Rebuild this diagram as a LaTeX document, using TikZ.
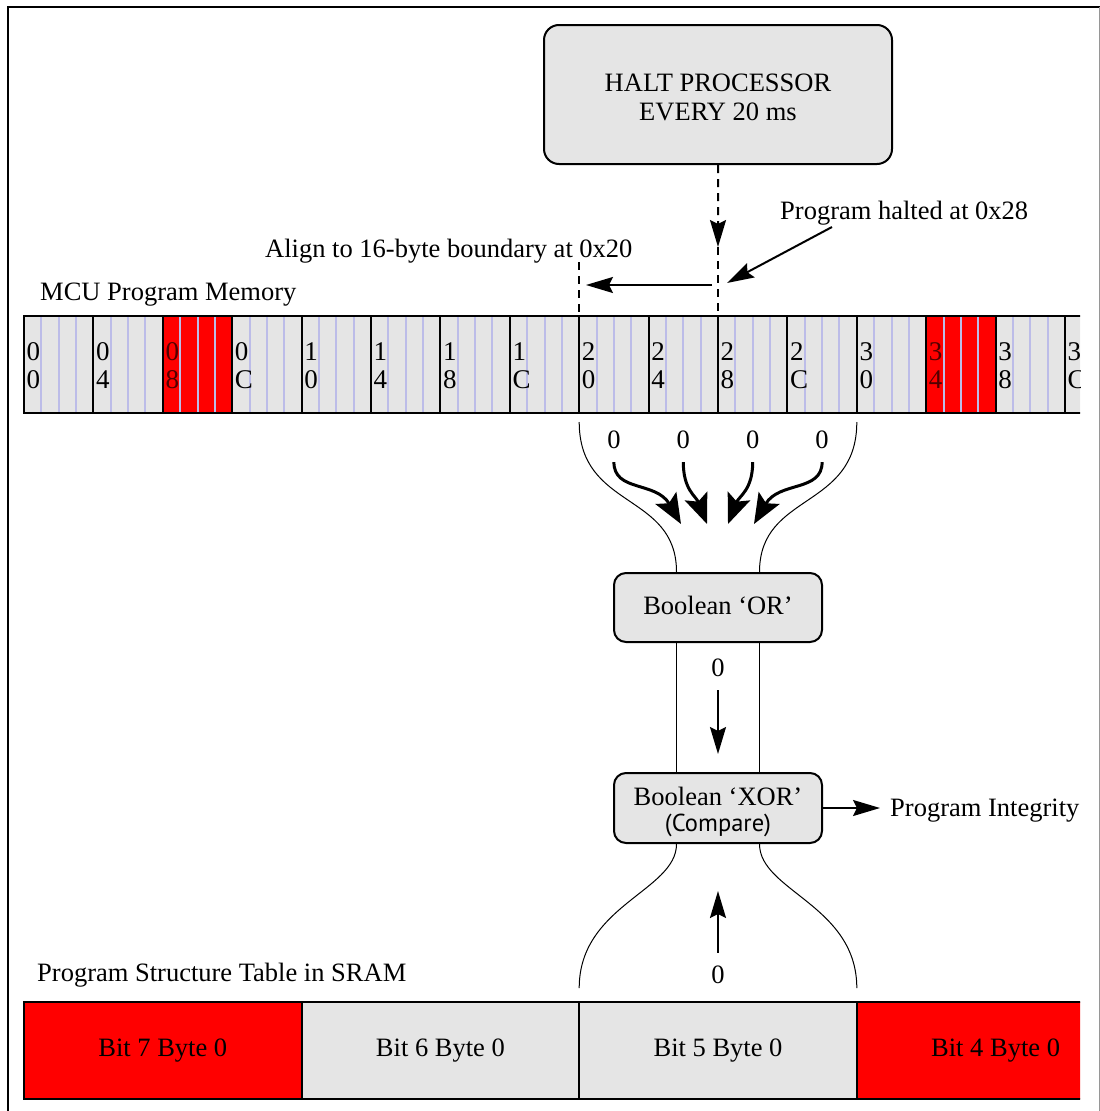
\documentclass[tikz,border=0pt]{standalone}
\usepackage{fontspec}
\setmainfont{Liberation Serif}
\newfontfamily\notefont{PT Sans}
\usetikzlibrary{arrows.meta,calc}

\definecolor{cellgray}{RGB}{229,229,229}
\definecolor{hotred}{RGB}{255,0,0}
\definecolor{byteline}{RGB}{188,188,232}
\definecolor{hotlabel}{RGB}{80,0,0}
\definecolor{framegray}{RGB}{150,150,150}

\newcommand\addrfont{\fontsize{27}{28}\selectfont}

\begin{document}
\begin{tikzpicture}[x=1pt,y=-1pt,
  every node/.style={font=\fontsize{26.5}{29}\selectfont},
  lbl/.style={inner sep=0pt, anchor=base west},
  memcell/.style={fill=cellgray, minimum width=69.4pt, minimum height=97pt,
    inner sep=0pt, outer sep=0pt, anchor=north west},
  hotcell/.style={memcell, fill=hotred},
  addr/.style={font=\addrfont, align=left, anchor=west,
    inner sep=0pt, text=black},
  hotaddr/.style={addr, text=hotlabel},
  gridline/.style={line width=2pt, line cap=rect},
  bytesep/.style={byteline, line width=2pt},
  sramcell/.style={draw=black, line width=2pt, fill=cellgray,
    minimum width=277.6pt, minimum height=97pt, inner sep=0pt, outer sep=0pt,
    anchor=north west},
  sramhot/.style={sramcell, fill=hotred},
  procbox/.style={draw=black, line width=2pt, fill=cellgray,
    rounded corners=15pt, align=center, inner sep=0pt},
  zero/.style={inner sep=2pt},
  arr/.style={line width=2pt, -{Stealth[length=27pt,width=16pt,inset=4pt]}},
  fanarrow/.style={line width=3pt, -{Stealth[length=30pt,width=24pt,inset=6pt]}},
  dashline/.style={line width=2pt, dash pattern=on 8pt off 6pt},
  flowline/.style={line width=1pt}
]
\useasboundingbox (0,0) rectangle (1100,1111);

% outer frame
\draw[line width=2pt] (8,1111) -- (8,7) -- (1100,7);
\draw[framegray, line width=1.2pt] (1099.3,7) -- (1099.3,1111);

\begin{scope}
  \clip (0,0) rectangle (1080,1111);
  % program memory row, one cell per 4-byte word
  \foreach \i/\sty in {0/memcell,1/memcell,2/hotcell,3/memcell,
      4/memcell,5/memcell,6/memcell,7/memcell,
      8/memcell,9/memcell,10/memcell,11/memcell,
      12/memcell,13/hotcell,14/memcell,15/memcell} {
    \pgfmathsetmacro\xx{24+69.4*\i}
    \node[\sty] (cell\i) at (\xx,316) {};
  }
  % byte separators inside each word
  \foreach \i in {0,...,15} {
    \foreach \k in {1,2,3} {
      \draw[bytesep] ($(cell\i.north west)+(17.35*\k,0)$) -- ($(cell\i.south west)+(17.35*\k,0)$);
    }
  }
  % word borders
  \draw[gridline] (cell0.north west) -- (cell15.north east);
  \draw[gridline] (cell0.south west) -- (cell15.south east);
  \foreach \i in {0,...,15} {
    \draw[gridline] (cell\i.north west) -- (cell\i.south west);
  }
  % addresses
  \foreach \i/\hi/\lo/\sty in {0/0/0/addr,1/0/4/addr,2/0/8/hotaddr,3/0/C/addr,
      4/1/0/addr,5/1/4/addr,6/1/8/addr,7/1/C/addr,
      8/2/0/addr,9/2/4/addr,10/2/8/addr,11/2/C/addr,
      12/3/0/addr,13/3/4/hotaddr,14/3/8/addr,15/3/C/addr} {
    \node[\sty] (addr\i) at ($(cell\i.west)+(2.5,1.5)$) {\addrfont\hi\\\addrfont\lo};
  }

  % program structure table
  \node[sramhot]  (sram0) at (24,1002)    {Bit 7 Byte 0};
  \node[sramcell] (sram1) at (301.6,1002) {Bit 6 Byte 0};
  \node[sramcell] (sram2) at (579.2,1002) {Bit 5 Byte 0};
  \node[sramhot]  (sram3) at (856.8,1002) {Bit 4 Byte 0};
\end{scope}

% labels
\node[lbl] (haltedlbl) at (780,219) {Program halted at 0x28};
\node[lbl] (alignlbl) at (265,257) {Align to 16-byte boundary at 0x20};
\node[lbl] (memlbl) at (40,300) {MCU Program Memory};
\node[lbl] (sramlbl) at (37,981) {Program Structure Table in SRAM};
\node[lbl] (integrity) at (890,816) {Program Integrity};

% processing blocks
\node[procbox, minimum width=348pt, minimum height=139pt] (halt) at (718,94.5)
  {\rule{0pt}{24pt}HALT PROCESSOR\\EVERY 20 ms};
\node[procbox, rounded corners=12pt, minimum width=208pt, minimum height=69pt] (or) at (718,607.5)
  {Boolean ‘OR’\rule[-4pt]{0pt}{4pt}};
\node[procbox, rounded corners=12pt, minimum width=208pt, minimum height=70pt] (xor) at (718,808)
  {\rule{0pt}{27pt}Boolean ‘XOR’\\[-3pt]{\notefont\fontsize{24.5}{28}\selectfont (Compare)}};

% halt point and alignment
\coordinate (haltmark) at ($(cell10.north west)+(0,-69)$);
\coordinate (alignmark) at ($(cell8.north west)+(0,-54)$);
\draw[dashline, arr] (halt) -- (haltmark);
\draw[dashline] (haltmark) -- (cell10.north west);
\draw[dashline] (alignmark) -- (cell8.north west);
\coordinate (shiftfrom) at (712,285);
\coordinate (shiftto) at (586,285);
\draw[arr] (shiftfrom) -- (shiftto);
\coordinate (haltedfrom) at (832,227);
\coordinate (haltedat) at (727,283);
\draw[arr] (haltedfrom) -- (haltedat);

% the four aligned words
\node[zero] (bit0) at ($(cell8.south)+(0,27)$) {0};
\node[zero] (bit1) at ($(cell9.south)+(0,27)$) {0};
\node[zero] (bit2) at ($(cell10.south)+(0,27)$) {0};
\node[zero] (bit3) at ($(cell11.south)+(0,27)$) {0};
\coordinate (m0) at (681,524);
\coordinate (m1) at (707,524);
\coordinate (m2) at (728,524);
\coordinate (m3) at (754,524);
\draw[fanarrow] ($(bit0.south)+(0,11)$) .. controls +(0,30) and +(-25,-43) .. (m0);
\draw[fanarrow] ($(bit1.south)+(0,11)$) .. controls +(0,28) and +(-11,-28) .. (m1);
\draw[fanarrow] ($(bit2.south)+(0,11)$) .. controls +(0,28) and +(11,-28) .. (m2);
\draw[fanarrow] ($(bit3.south)+(0,11)$) .. controls +(0,30) and +(25,-43) .. (m3);

% funnel into OR
\draw[flowline] ($(cell8.south west)+(0,9)$) .. controls +(0,88) and +(0,-80) .. ($(or.north)+(-41.5,0)$);
\draw[flowline] ($(cell11.south east)+(0,9)$) .. controls +(0,88) and +(0,-80) .. ($(or.north)+(41.5,0)$);

% OR to XOR channel
\draw[flowline] ($(or.south)+(-41.5,0)$) -- ($(xor.north)+(-41.5,0)$);
\draw[flowline] ($(or.south)+(41.5,0)$) -- ($(xor.north)+(41.5,0)$);
\node[zero] (orout) at (718,668) {0};
\draw[arr, shorten <=11pt, shorten >=18pt] (orout) -- (xor);

% SRAM reference into XOR
\draw[flowline] ($(xor.south)+(-41.5,0)$) .. controls +(0,47) and +(0,-83) .. ($(sram2.north west)+(0,-14)$);
\draw[flowline] ($(xor.south)+(41.5,0)$) .. controls +(0,47) and +(0,-83) .. ($(sram2.north east)+(0,-14)$);
\node[zero] (refbit) at ($(sram2.north)+(0,-27)$) {0};
\draw[arr, shorten <=11pt, shorten >=47pt] (refbit) -- (xor);

% result
\draw[arr, shorten >=10pt] (xor.east) -- (xor.east -| integrity.west);
\end{tikzpicture}
\end{document}
